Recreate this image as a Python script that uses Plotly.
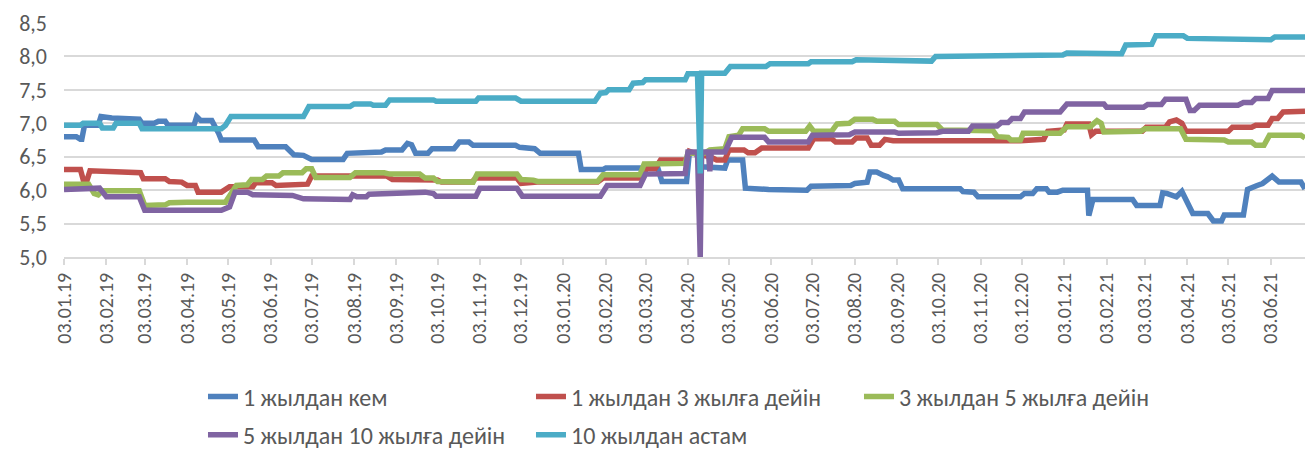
import plotly.graph_objects as go

# ---------------- data ----------------
names = ["1 жылдан кем", "1 жылдан 3 жылға дейін", "3 жылдан 5 жылға дейін",
         "5 жылдан 10 жылға дейін", "10 жылдан астам"]
colors = ["#4F81BD", "#C0504D", "#9BBB59", "#8064A2", "#4BACC6"]

s1_dates = ["2019-01-03","2019-01-12","2019-01-15","2019-01-16","2019-01-18","2019-01-28","2019-01-30","2019-02-07","2019-02-27","2019-03-01","2019-03-10","2019-03-13","2019-03-18","2019-03-20","2019-04-08","2019-04-10","2019-04-13","2019-04-21","2019-04-26","2019-04-28","2019-05-22","2019-05-25","2019-06-14","2019-06-20","2019-06-27","2019-07-03","2019-07-26","2019-07-29","2019-08-23","2019-08-26","2019-09-07","2019-09-11","2019-09-14","2019-09-17","2019-09-26","2019-09-29","2019-10-15","2019-10-19","2019-10-26","2019-10-29","2019-11-29","2019-12-02","2019-12-13","2019-12-17","2020-01-14","2020-01-16","2020-02-01","2020-02-03","2020-03-12","2020-03-15","2020-04-02","2020-04-04","2020-04-09","2020-04-13","2020-04-30","2020-05-02","2020-05-13","2020-05-15","2020-06-01","2020-06-29","2020-07-02","2020-07-31","2020-08-03","2020-08-12","2020-08-14","2020-08-19","2020-08-24","2020-08-27","2020-08-31","2020-09-04","2020-09-07","2020-10-19","2020-10-21","2020-10-29","2020-11-01","2020-12-02","2020-12-05","2020-12-11","2020-12-14","2020-12-21","2020-12-23","2020-12-29","2021-01-02","2021-01-20","2021-01-21","2021-01-24","2021-02-22","2021-02-25","2021-03-14","2021-03-16","2021-03-19","2021-03-26","2021-03-30","2021-04-05","2021-04-07","2021-04-18","2021-04-22","2021-04-28","2021-04-30","2021-05-14","2021-05-17","2021-05-24","2021-05-28","2021-06-04","2021-06-09","2021-06-25","2021-06-28"]
s1_values = [6.80,6.80,6.76,6.76,6.97,6.97,7.10,7.08,7.06,7.00,7.00,7.03,7.03,6.97,6.97,7.10,7.04,7.04,6.85,6.75,6.75,6.65,6.65,6.53,6.52,6.46,6.46,6.55,6.57,6.60,6.60,6.70,6.68,6.55,6.55,6.62,6.62,6.72,6.72,6.67,6.67,6.64,6.62,6.55,6.55,6.31,6.31,6.33,6.33,6.13,6.13,6.55,6.55,6.35,6.33,6.45,6.45,6.03,6.01,6.00,6.06,6.07,6.10,6.12,6.27,6.27,6.22,6.20,6.15,6.15,6.02,6.02,5.98,5.97,5.90,5.90,5.95,5.95,6.02,6.02,5.97,5.97,6.00,6.00,5.62,5.86,5.86,5.77,5.77,5.96,5.95,5.90,5.98,5.70,5.65,5.65,5.54,5.54,5.63,5.63,6.01,6.07,6.10,6.21,6.12,6.12,6.02]

s2_dates = ["2019-01-03","2019-01-15","2019-01-17","2019-01-20","2019-01-22","2019-02-02","2019-02-10","2019-02-13","2019-02-28","2019-03-02","2019-03-18","2019-03-21","2019-03-30","2019-04-03","2019-04-09","2019-04-11","2019-04-28","2019-05-04","2019-05-21","2019-05-23","2019-06-04","2019-06-07","2019-06-27","2019-06-30","2019-07-03","2019-08-27","2019-08-31","2019-10-03","2019-10-06","2019-10-28","2019-10-31","2019-11-30","2019-12-03","2019-12-15","2020-01-28","2020-02-01","2020-02-28","2020-03-04","2020-03-10","2020-03-14","2020-04-02","2020-04-04","2020-04-08","2020-04-19","2020-04-24","2020-04-30","2020-05-03","2020-05-14","2020-05-17","2020-05-22","2020-05-27","2020-06-30","2020-07-04","2020-07-17","2020-07-20","2020-08-01","2020-08-04","2020-08-12","2020-08-15","2020-08-21","2020-08-25","2020-08-31","2020-12-02","2020-12-19","2020-12-22","2021-01-03","2021-01-05","2021-01-21","2021-01-23","2021-01-26","2021-03-01","2021-03-04","2021-03-18","2021-03-21","2021-03-26","2021-03-30","2021-04-02","2021-05-03","2021-05-06","2021-05-20","2021-05-23","2021-06-01","2021-06-04","2021-06-08","2021-06-12","2021-06-28"]
s2_values = [6.31,6.31,6.16,6.16,6.29,6.28,6.27,6.26,6.26,6.17,6.17,6.13,6.12,6.07,6.07,5.97,5.97,6.05,6.05,6.11,6.11,6.07,6.07,6.09,6.21,6.21,6.16,6.15,6.12,6.12,6.18,6.18,6.10,6.12,6.12,6.18,6.18,6.32,6.32,6.45,6.45,6.58,6.55,6.50,6.45,6.45,6.60,6.60,6.56,6.56,6.63,6.63,6.77,6.77,6.72,6.72,6.78,6.78,6.67,6.67,6.76,6.74,6.74,6.76,6.88,6.90,6.99,6.99,6.83,6.88,6.88,6.94,6.94,7.02,7.05,7.00,6.88,6.88,6.94,6.94,6.97,6.97,7.07,7.07,7.17,7.18]

s3_dates = ["2019-01-03","2019-01-21","2019-01-25","2019-01-28","2019-01-31","2019-02-27","2019-03-03","2019-03-18","2019-03-21","2019-04-03","2019-05-01","2019-05-09","2019-05-17","2019-05-20","2019-05-28","2019-05-31","2019-06-09","2019-06-12","2019-06-26","2019-06-29","2019-07-03","2019-07-06","2019-07-31","2019-08-04","2019-08-25","2019-08-29","2019-09-20","2019-09-24","2019-09-30","2019-10-03","2019-10-29","2019-11-01","2019-11-30","2019-12-03","2019-12-12","2019-12-15","2020-01-28","2020-02-01","2020-02-28","2020-03-02","2020-04-01","2020-04-03","2020-04-15","2020-04-19","2020-04-30","2020-05-03","2020-05-10","2020-05-13","2020-05-29","2020-06-01","2020-06-28","2020-07-01","2020-07-04","2020-07-17","2020-07-21","2020-07-30","2020-08-03","2020-08-16","2020-08-19","2020-09-01","2020-09-04","2020-10-02","2020-10-06","2020-11-12","2020-11-15","2020-11-23","2020-11-25","2020-12-02","2020-12-04","2020-12-31","2021-01-05","2021-01-22","2021-01-27","2021-01-30","2021-02-01","2021-02-28","2021-03-03","2021-03-29","2021-04-02","2021-04-30","2021-05-03","2021-05-20","2021-05-23","2021-05-29","2021-06-02","2021-06-25","2021-06-28"]
s3_values = [6.09,6.09,5.95,5.93,5.99,5.99,5.77,5.78,5.81,5.82,5.82,6.07,6.08,6.16,6.16,6.21,6.21,6.26,6.26,6.32,6.32,6.19,6.19,6.26,6.26,6.24,6.24,6.18,6.18,6.13,6.12,6.24,6.24,6.16,6.15,6.13,6.13,6.23,6.23,6.39,6.40,6.55,6.55,6.60,6.62,6.80,6.82,6.92,6.92,6.88,6.88,6.96,6.88,6.88,6.99,7.00,7.06,7.06,7.03,7.03,6.98,6.98,6.90,6.89,6.80,6.79,6.75,6.75,6.85,6.85,6.95,6.95,7.04,7.00,6.87,6.88,6.92,6.92,6.76,6.75,6.72,6.72,6.67,6.67,6.82,6.82,6.78]

s4_dates = ["2019-01-03","2019-01-27","2019-01-29","2019-02-03","2019-02-27","2019-03-03","2019-04-28","2019-05-04","2019-05-08","2019-05-17","2019-05-21","2019-06-19","2019-06-27","2019-07-31","2019-08-02","2019-08-05","2019-08-12","2019-08-14","2019-09-20","2019-09-24","2019-09-30","2019-10-02","2019-10-31","2019-11-03","2019-11-30","2019-12-04","2020-01-30","2020-02-04","2020-02-28","2020-03-03","2020-04-01","2020-04-03","2020-04-10","2020-04-12","2020-04-13","2020-04-18","2020-04-19","2020-04-20","2020-04-30","2020-05-05","2020-05-29","2020-06-01","2020-06-30","2020-07-03","2020-07-30","2020-08-03","2020-09-01","2020-09-04","2020-10-02","2020-10-06","2020-10-25","2020-10-28","2020-11-15","2020-11-18","2020-11-23","2020-11-26","2020-12-02","2020-12-05","2020-12-31","2021-01-05","2021-02-01","2021-02-03","2021-03-02","2021-03-05","2021-03-15","2021-03-18","2021-04-02","2021-04-05","2021-04-08","2021-04-12","2021-05-10","2021-05-14","2021-05-20","2021-05-23","2021-06-01","2021-06-04","2021-06-28"]
s4_values = [6.01,6.01,6.03,5.90,5.90,5.70,5.70,5.75,5.97,5.97,5.93,5.92,5.87,5.86,5.93,5.90,5.90,5.94,5.95,5.97,5.95,5.91,5.91,6.03,6.03,5.91,5.91,6.07,6.07,6.24,6.25,6.57,6.57,5.00,6.57,6.57,6.28,6.57,6.57,6.79,6.79,6.72,6.72,6.82,6.83,6.87,6.87,6.85,6.86,6.88,6.88,6.96,6.96,7.01,7.01,7.07,7.07,7.17,7.17,7.29,7.29,7.24,7.24,7.28,7.28,7.36,7.36,7.19,7.19,7.27,7.27,7.31,7.31,7.37,7.37,7.49,7.49]

s5_dates = ["2019-01-03","2019-01-15","2019-01-17","2019-01-29","2019-01-31","2019-02-08","2019-02-10","2019-02-27","2019-03-01","2019-04-28","2019-05-01","2019-05-05","2019-06-27","2019-07-01","2019-07-31","2019-08-03","2019-08-15","2019-08-17","2019-08-26","2019-08-29","2019-09-30","2019-10-02","2019-10-31","2019-11-02","2019-11-29","2019-12-03","2020-01-26","2020-01-30","2020-02-03","2020-02-05","2020-02-20","2020-02-23","2020-03-01","2020-03-03","2020-04-01","2020-04-03","2020-04-10","2020-04-12","2020-04-13","2020-04-30","2020-05-04","2020-05-30","2020-06-02","2020-06-30","2020-07-02","2020-08-01","2020-08-04","2020-09-02","2020-09-04","2020-09-28","2020-10-01","2020-12-02","2020-12-05","2021-01-02","2021-01-05","2021-02-03","2021-02-06","2021-02-14","2021-02-17","2021-03-08","2021-03-11","2021-03-31","2021-04-03","2021-05-10","2021-05-15","2021-06-03","2021-06-06","2021-06-28"]
s5_values = [6.97,6.97,7.00,7.00,6.93,6.93,7.00,7.00,6.92,6.92,6.97,7.10,7.10,7.25,7.25,7.29,7.29,7.27,7.27,7.35,7.35,7.33,7.33,7.38,7.38,7.33,7.33,7.45,7.46,7.50,7.50,7.60,7.61,7.65,7.65,7.74,7.74,6.25,7.75,7.75,7.85,7.85,7.89,7.89,7.92,7.92,7.95,7.95,7.93,7.93,8.00,8.00,8.02,8.02,8.05,8.05,8.04,8.04,8.17,8.18,8.31,8.31,8.27,8.27,8.25,8.25,8.29,8.29]

y_ticks = [5.0, 5.5, 6.0, 6.5, 7.0, 7.5, 8.0, 8.5]

series = [(s1_dates, s1_values), (s2_dates, s2_values), (s3_dates, s3_values),
          (s4_dates, s4_values), (s5_dates, s5_values)]
legend_ids = ["legend", "legend", "legend", "legend2", "legend2"]

FONT = "Calibri, Carlito, Lato, sans-serif"
GRID = "#d9d9d9"
TXT = "#595959"

fig = go.Figure()
for (d, v), nm, col, lg in zip(series, names, colors, legend_ids):
    fig.add_trace(go.Scatter(x=d, y=v, mode="lines", name=nm,
                             line=dict(color=col, width=5.5),
                             legend=lg))

legend_common = dict(orientation="h", xanchor="left", yanchor="middle",
                     entrywidth=283, entrywidthmode="pixels",
                     font=dict(family=FONT, size=24, color=TXT),
                     bgcolor="rgba(0,0,0,0)", itemwidth=30, tracegroupgap=0)

fig.update_layout(
    width=1305, height=450,
    margin=dict(l=64, r=0, t=23, b=193, autoexpand=False),
    plot_bgcolor="white", paper_bgcolor="white",
    separators=", ",
    showlegend=True,
    legend=dict(x=0.112, y=-0.598, **legend_common),
    legend2=dict(x=0.112, y=-0.761, **legend_common),
    xaxis=dict(type="date", range=["2019-01-03", "2021-06-28"],
               tick0="2019-01-03", dtick="M1", tickformat="%d.%m.%y",
               tickangle=-90, ticks="outside", ticklen=6, tickcolor=GRID,
               tickwidth=1.5, showline=True, linecolor=GRID, linewidth=1.5,
               showgrid=False, zeroline=False,
               tickfont=dict(family=FONT, size=20, color=TXT)),
    yaxis=dict(range=[5, 8.5], tickvals=y_ticks, tickformat=".1f",
               showgrid=True, gridcolor=GRID, gridwidth=1.5, zeroline=False,
               showline=False, ticks="", ticklabelstandoff=16,
               tickfont=dict(family=FONT, size=22, color=TXT)),
)

fig.write_html("out.html", config={"displayModeBar": False},
               post_script="document.body.style.margin='0';document.body.style.overflow='hidden';")
